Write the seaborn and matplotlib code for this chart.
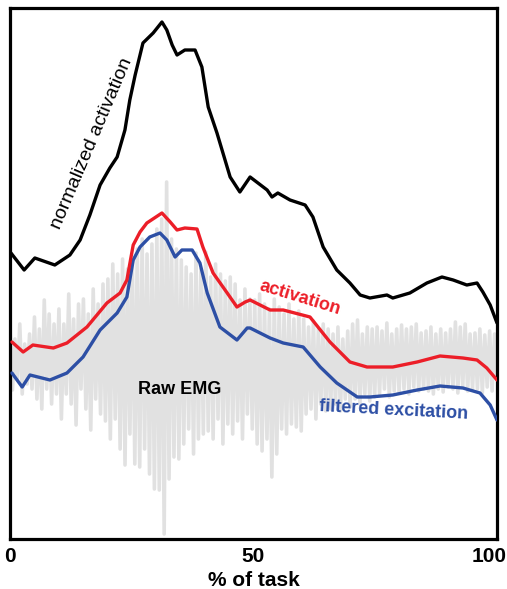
import numpy as np
import pandas as pd
import matplotlib
matplotlib.use("Agg")
import matplotlib.pyplot as plt
import matplotlib.transforms as mtransforms
import seaborn as sns

# ---------------- data (arbitrary units, x in % of task) ----------------
norm_x = [0.2, 2.9, 5.1, 9.2, 12.3, 14.4, 16.4, 18.5, 20.5, 22.0, 23.6, 24.6, 25.7, 27.3,
          29.4, 31.2, 32.2, 33.3, 34.3, 35.9, 38.0, 39.4, 40.7, 42.5, 45.2, 47.2, 49.3,
          52.8, 53.8, 55.0, 57.5, 60.6, 62.2, 64.3, 67.1, 69.8, 71.9, 73.9, 77.4, 78.6,
          82.1, 85.6, 88.7, 91.0, 93.8, 95.9, 97.1, 98.6, 100.0]
norm_y = [286, 269, 281, 274, 284, 299, 324, 354, 371, 382, 409, 439, 464, 496,
          506, 517, 509, 494, 484, 489, 489, 472, 432, 406, 362, 347, 362,
          349, 342, 346, 339, 334, 322, 292, 269, 256, 244, 241, 244, 241,
          246, 256, 262, 259, 254, 256, 247, 234, 216]

act_x = [0.4, 2.7, 4.7, 8.9, 11.7, 15.8, 19.9, 22.6, 24.0, 25.3, 26.7, 28.1, 31.2,
         32.9, 34.3, 35.9, 38.4, 39.6, 41.7, 44.6, 46.6, 48.3, 49.3, 53.4, 56.1,
         61.6, 65.7, 69.8, 73.3, 78.6, 83.6, 88.3, 93.0, 95.9, 97.9, 100.0]
act_y = [197, 187, 194, 191, 196, 212, 236, 246, 259, 294, 307, 316, 326,
         317, 309, 311, 310, 292, 266, 246, 232, 237, 239, 229, 229,
         222, 197, 177, 172, 172, 177, 183, 181, 179, 171, 159]

exc_x = [0.4, 2.5, 4.1, 8.2, 11.7, 15.0, 18.5, 22.0, 24.0, 25.3, 26.7, 28.7, 30.8,
         32.2, 33.9, 35.3, 37.4, 39.0, 40.5, 43.1, 46.6, 48.7, 49.3, 53.4, 56.1,
         60.2, 63.7, 67.1, 71.3, 73.9, 78.6, 83.6, 88.3, 93.0, 96.5, 98.6, 100.0]
exc_y = [166, 152, 164, 159, 166, 182, 209, 226, 242, 279, 292, 302, 306,
         299, 282, 289, 289, 276, 246, 212, 199, 211, 211, 201, 196,
         192, 172, 156, 142, 142, 144, 149, 153, 151, 146, 134, 119]

raw_emg = [209, 149, 200, 160, 215, 145, 195, 155, 205, 150,
           222, 140, 210, 130, 239, 150, 225, 135, 215, 145,
           230, 120, 215, 145, 245, 135, 220, 114, 235, 150,
           240, 130, 225, 109, 250, 140, 235, 125, 255, 118,
           260, 100, 275, 120, 265, 90, 280, 74, 270, 105,
           280, 75, 290, 72, 300, 90, 285, 65, 295, 50,
           310, 49, 320, 5, 357, 60, 300, 82, 290, 80,
           279, 95, 272, 110, 265, 85, 286, 100, 270, 105,
           287, 108, 262, 100, 275, 120, 265, 95, 258, 115,
           262, 105, 255, 118, 239, 100, 250, 125, 240, 110,
           239, 95, 245, 88, 235, 100, 230, 62, 240, 85,
           232, 110, 225, 105, 235, 115, 220, 112, 228, 108,
           220, 125, 212, 130, 218, 120, 210, 135, 215, 128,
           210, 130, 205, 135, 212, 128, 200, 140, 208, 132,
           215, 140, 219, 135, 205, 145, 212, 138, 210, 142,
           212, 145, 208, 150, 216, 142, 205, 148, 210, 146,
           214, 150, 210, 145, 212, 152, 215, 148, 206, 150,
           208, 148, 212, 145, 205, 150, 210, 147, 206, 152,
           210, 150, 217, 146, 212, 152, 215, 148, 205, 150,
           206, 150, 210, 146, 204, 152, 208, 148, 205, 160]

x_ticks = [0, 50, 100]
x_label = "% of task"

# ---------------- plotting ----------------
sns.set_style("white")
plt.rcParams['font.family'] = ['Liberation Sans', 'DejaVu Sans']
plt.rcParams['text.color'] = 'black'
plt.rcParams['axes.labelcolor'] = 'black'
plt.rcParams['xtick.color'] = 'black'

fig = plt.figure(figsize=(5.07, 5.89), dpi=100)
ax = fig.add_axes([10 / 507, 50 / 589, 487 / 507, 531 / 589])

emg_df = pd.DataFrame({"x": np.linspace(0, 100, len(raw_emg)), "y": raw_emg})
sns.lineplot(data=emg_df, x="x", y="y", ax=ax, color="#e1e1e1", lw=2.6,
             estimator=None, zorder=1)

sns.lineplot(data=pd.DataFrame({"x": exc_x, "y": exc_y}), x="x", y="y", ax=ax,
             color="#2d4fa5", lw=2.4, estimator=None, zorder=3)
sns.lineplot(data=pd.DataFrame({"x": act_x, "y": act_y}), x="x", y="y", ax=ax,
             color="#ec1e28", lw=2.4, estimator=None, zorder=4)
sns.lineplot(data=pd.DataFrame({"x": norm_x, "y": norm_y}), x="x", y="y", ax=ax,
             color="black", lw=2.4, estimator=None, zorder=5)

ax.set_xlim(0, 100)
ax.set_ylim(0, 531)
ax.set_yticks([])
ax.set_xticks(x_ticks)
ax.set_xticklabels([str(t) for t in x_ticks], fontsize=15, fontweight="bold",
                   color="black")
ax.tick_params(axis="x", length=0, pad=6)
labels = ax.get_xticklabels()
labels[-1].set_transform(labels[-1].get_transform() +
                         mtransforms.ScaledTranslation(-0.08, 0, fig.dpi_scale_trans))
ax.set_xlabel(x_label, fontsize=15, fontweight="bold", labelpad=3, color="black")
ax.set_ylabel("")
for s in ax.spines.values():
    s.set_visible(True)
    s.set_color("black")
    s.set_linewidth(2.3)

ax.text(16.8, 396, "normalized activation", rotation=67, fontsize=14,
        ha="center", va="center", color="black", zorder=6)
ax.text(59.5, 241, "activation", rotation=-17, fontsize=13, fontweight="bold",
        ha="center", va="center", color="#ec1e28", zorder=6)
ax.text(78.7, 129, "filtered excitation", rotation=-3, fontsize=13, fontweight="bold",
        ha="center", va="center", color="#2d4fa5", zorder=6)
ax.text(34.9, 149, "Raw EMG", fontsize=13, fontweight="bold",
        ha="center", va="center", color="black", zorder=6)

fig.savefig("out.png", dpi=100)
